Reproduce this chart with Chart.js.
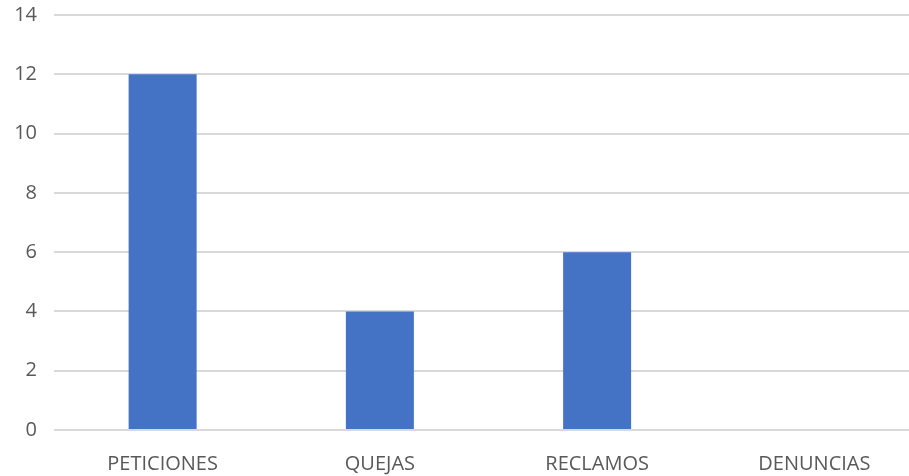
<!DOCTYPE html>
<html>
<head>
<meta charset="utf-8">
<script src="https://cdn.jsdelivr.net/npm/chart.js@4/dist/chart.umd.min.js"></script>
<style>
  html, body { margin: 0; padding: 0; background: #fff; overflow: hidden; }
  #wrap { position: relative; width: 923px; height: 476px; }
</style>
</head>
<body>
<div id="wrap"><canvas id="chart"></canvas></div>
<script>
// datos
const categorias = ['PETICIONES', 'QUEJAS', 'RECLAMOS', 'DENUNCIAS'];
const cantidades = [12, 4, 6, 0];
const ejeY = { min: 0, max: 14, paso: 2 };

new Chart(document.getElementById('chart'), {
    type: 'bar',
    data: {
        labels: categorias,
        datasets: [{
            label: 'Cantidad',
            data: cantidades,
            backgroundColor: '#4472C4',
            categoryPercentage: 1,
            barPercentage: 0.313
        }]
    },
    options: {
        responsive: true,
        maintainAspectRatio: false,
        animation: false,
        layout: { padding: { left: 0, top: 15, right: 0, bottom: 0 } },
        plugins: {
            legend: { display: false },
            tooltip: { enabled: false }
        },
        scales: {
            x: {
                grid: { display: false, drawTicks: false },
                border: { display: false },
                ticks: {
                    color: '#595959',
                    font: { family: 'Open Sans', size: 20 },
                    padding: 22,
                    maxRotation: 0
                },
                afterFit: s => { s.height = 46; }
            },
            y: {
                min: ejeY.min,
                max: ejeY.max,
                grid: { color: '#d9d9d9', lineWidth: 2, drawTicks: false },
                border: { display: false },
                ticks: {
                    stepSize: ejeY.paso,
                    color: '#595959',
                    font: { family: 'Open Sans', size: 20 },
                    padding: 17
                },
                afterFit: s => { s.width = 54; s.paddingTop = 0; s.paddingBottom = 0; }
            }
        }
    }
});
</script>
</body>
</html>
